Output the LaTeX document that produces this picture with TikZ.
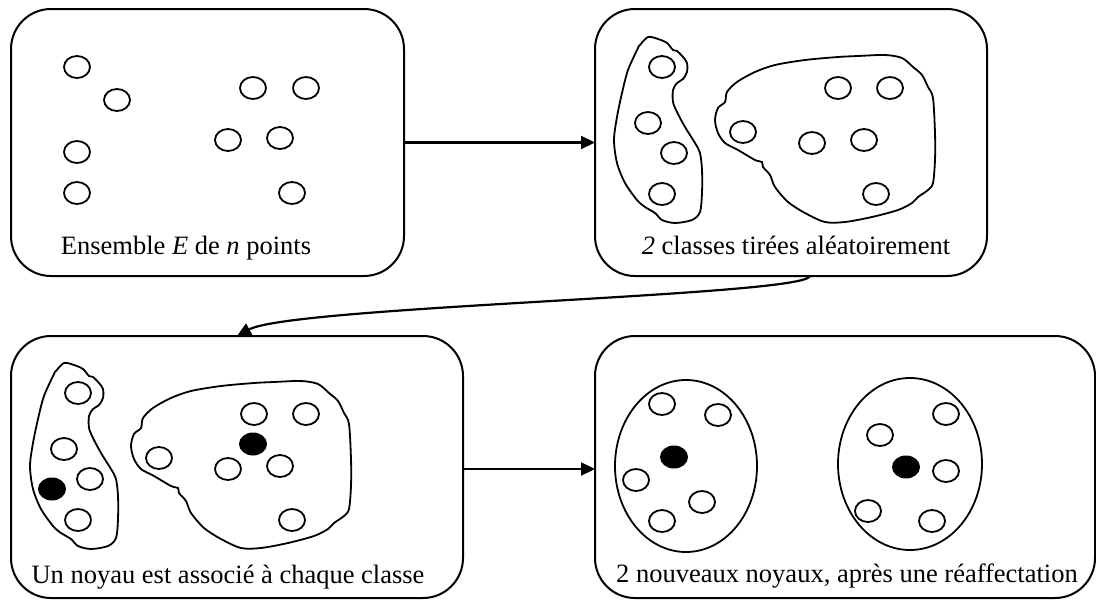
\documentclass[tikz,border=0pt]{standalone}
\usepackage{fontspec}
\setmainfont{Liberation Serif}
\usetikzlibrary{arrows.meta,calc}
\newcommand{\pnt}[1]{\draw[pointc] (#1) ellipse [x radius=13, y radius=11];}
\newcommand{\noyau}[1]{\fill (#1) ellipse [x radius=14, y radius=11.5];}
\newcommand{\classesdrawing}{%
  \draw[blob] plot[smooth cycle, tension=0.5] coordinates {
    (648,37) (658,39) (667,43) (673,50) (677,51) (683,57) (687,63) (687,72) (683,79)
    (677,83) (673,90) (673,102) (677,112) (685,127) (695,143) (700,153) (702,170)
    (702,193) (700,212) (692,220) (675,223) (662,220) (655,213) (645,207) (637,200)
    (625,183) (617,163) (614,140) (617,117) (622,93) (628,70) (638,48) (640,45)};
  \draw[blob] plot[smooth cycle, tension=0.5] coordinates {
    (718,108) (725,102) (727,92) (737,82) (755,72) (775,65) (805,60) (838,57)
    (858,56) (885,55) (902,58) (913,67) (922,75) (928,87) (933,98) (935,133)
    (935,160) (933,183) (928,190) (918,197) (912,203) (898,210) (872,217)
    (845,222) (825,222) (805,213) (788,202) (775,187) (770,175) (763,167)
    (762,162) (755,160) (738,150) (725,143) (718,133) (715,120)};
  \pnt{662,67}\pnt{648,123}\pnt{674,153}\pnt{662,194}\pnt{743,132}
  \pnt{838,88}\pnt{890,88}\pnt{812,143}\pnt{864,140}\pnt{876,194}}
\tikzset{
  box/.style={draw, line width=2pt, rounded corners=40pt, inner sep=0pt, outer sep=0pt},
  pointc/.style={line width=1.8pt},
  blob/.style={line width=1.8pt},
  arr/.style={line width=2.2pt, -{Triangle[length=14pt,width=13pt]}},
  lbl/.style={inner sep=0pt, anchor=base, font=\fontsize{26.5}{30}\selectfont}
}
\begin{document}
\begin{tikzpicture}[x=1pt,y=-1pt]
\useasboundingbox (0,0) rectangle (1096,600);
% boxes
\node[box, minimum width=393pt, minimum height=267pt] (b1) at (207.5,142.5) {};
\node[box, minimum width=392pt, minimum height=267pt] (b2) at (791,142.5) {};
\node[box, minimum width=452pt, minimum height=262pt] (b3) at (237,467) {};
\node[box, minimum width=500pt, minimum height=262pt] (b4) at (845,467) {};
% box 1 points
\pnt{77,67}\pnt{117,100}\pnt{77,152}\pnt{77,193}
\pnt{253,88}\pnt{306,88}\pnt{228,140}\pnt{280,138}\pnt{292,193}
% box 2
\classesdrawing
% box 3
\begin{scope}[shift={(-584,326)}]
  \classesdrawing
  \noyau{636,163}
  \noyau{837,118}
\end{scope}
% box 4
\draw[blob] (686,466) ellipse [x radius=71, y radius=86];
\draw[blob] (910,464) ellipse [x radius=72, y radius=86];
\pnt{662,404}\pnt{718,415}\pnt{636,480}\pnt{702,502}\pnt{662,521}
\noyau{674,457}
\pnt{946,414}\pnt{880,435}\pnt{946,471}\pnt{868,511}\pnt{932,521}
\noyau{906,467}
% labels
\node[lbl] (t1) at (186,254) {Ensemble \textit{E} de \textit{n} points};
\node[lbl] (t2) at (796,254) {\textit{2} classes tirées aléatoirement};
\node[lbl] (t3) at (228,583) {Un noyau est associé à chaque classe};
\node[lbl] (t4) at (847,582) {2 nouveaux noyaux, après une réaffectation};
% connectors
\draw[arr] (b1.east) -- (b2.west);
\draw[arr] ([yshift=-2pt]b3.east) -- ([yshift=-2pt]b4.west);
\draw[arr] ([xshift=19pt]b2.south) .. controls +(-5,20) and +(55,-30) .. (b3.north);
\end{tikzpicture}
\end{document}
